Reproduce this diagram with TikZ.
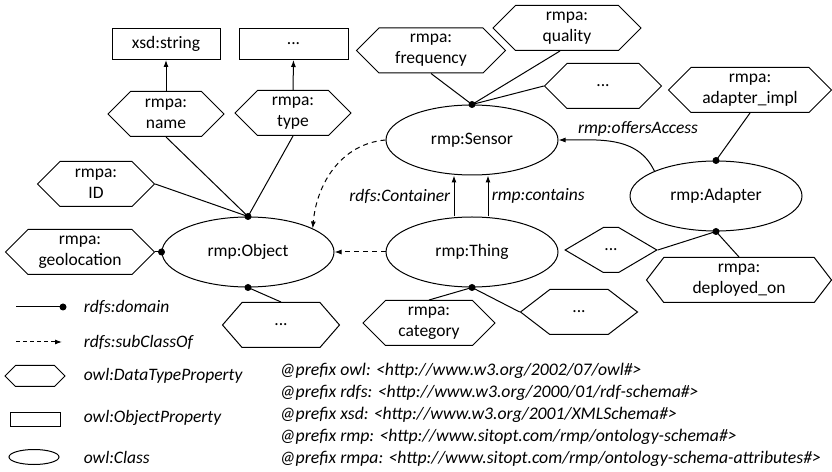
\documentclass[tikz,border=0pt]{standalone}
\usepackage{fontspec}
\setmainfont{Carlito}
\usetikzlibrary{positioning,shapes.geometric,shapes.symbols,arrows.meta}
\tikzstyle{Clase}=[ellipse, draw, minimum width=172pt, minimum height=70pt, inner sep=0pt]
\tikzstyle{DatoProp}=[signal, signal to=west and east, signal pointer angle=90, draw, align=center, minimum height=45pt, inner sep=1pt]
\tikzstyle{ObjProp}=[rectangle, draw, minimum width=108pt, minimum height=31pt]
\tikzstyle{Punto}=[circle, fill, inner sep=0pt, minimum size=7pt]
\tikzstyle{Flecha}=[-{Latex[length=7pt,width=5pt]}]
\tikzstyle{SubClase}=[Flecha, dash pattern=on 5pt off 4pt]
\tikzstyle{Etiqueta}=[font=\fontsize{17.5}{21}\selectfont\itshape]

\begin{document}
\begin{tikzpicture}[x=1pt, y=1pt, line width=1pt, font=\fontsize{17.5}{21}\selectfont]
			\useasboundingbox (0,0) rectangle (832,471);

			%Clases
			\node[Clase]		(sensor)		at (472,331)	{rmp:Sensor};
			\node[Clase]		(object)		at (248,219)	{rmp:Object};
			\node[Clase]		(thing)		at (472,219)	{rmp:Thing};
			\node[Clase]		(adapter)		at (716,275)	{rmp:Adapter};

			%Propiedades
			\node[ObjProp]		(string)		at (166,427)	{xsd:string};
			\node[ObjProp, minimum width=109pt]	(typerange)	at (293.5,427)	{...};

			\node[DatoProp, minimum width=116pt]	(name)		at (166,357)	{rmpa:\\name};
			\node[DatoProp, minimum width=116pt]	(type)		at (293,358)	{rmpa:\\type};
			\node[DatoProp, minimum width=117pt]	(id)			at (96,287)		{rmpa:\\ID};
			\node[DatoProp, minimum width=149pt]	(geolocation)	at (80,219)		{rmpa:\\geolocation};
			\node[DatoProp, minimum width=117pt, signal pointer angle=98]	(objmore)	at (281,146)	{...};

			\node[DatoProp, minimum width=149pt]	(frequency)	at (431,420.5)	{rmpa:\\frequency};
			\node[DatoProp, minimum width=148pt]	(quality)		at (567,443)	{rmpa:\\quality};
			\node[DatoProp, minimum width=117pt]	(sensormore)	at (603,385)	{...};

			\node[DatoProp, minimum width=163pt]	(impl)		at (750,381)	{rmpa:\\adapter\_impl};
			\node[DatoProp, minimum width=78pt, signal pointer angle=61]	(adaptermore)	at (611,221)	{...};
			\node[DatoProp, minimum width=185pt, signal pointer angle=105]	(deployed)	at (739,191)	{rmpa:\\deployed\_on};

			\node[DatoProp, minimum width=132pt]	(category)	at (429,148)	{rmpa:\\category};
			\node[DatoProp, minimum width=117pt, signal pointer angle=75]	(thingmore)	at (579,159)	{...};

			%Puntos de dominio
			\node[Punto]		(objtop)		at (object.north)	{};
			\node[Punto]		(objleft)		at (object.west)	{};
			\node[Punto]		(objbottom)	at (object.south)	{};
			\node[Punto]		(sensortop)	at (sensor.north)	{};
			\node[Punto]		(thingbottom)	at (thing.south)	{};
			\node[Punto]		(adaptertop)	at (adapter.north)	{};
			\node[Punto]		(adapterbottom)	at (adapter.south)	{};

			%Lineas
			\draw (name.south) -- (objtop.center);
			\draw (type.south) -- (objtop.center);
			\draw (id.east) -- (objtop.center);
			\draw (geolocation.east) -- (objleft.center);
			\draw (objbottom.center) -- (objmore.north);

			\draw (frequency.south) -- (sensortop.center);
			\draw ([xshift=-7pt]quality.south) -- (sensortop.center);
			\draw (sensormore.west) -- (sensortop.center);

			\draw (impl.south) -- (adaptertop.center);
			\draw (adapterbottom.center) -- (adaptermore.east);
			\draw (adapterbottom.center) -- (deployed.north);

			\draw (thingbottom.center) -- (category.north);
			\draw (thingbottom.center) -- (thingmore.west);

			\draw[Flecha] (name.north) -- (string.south);
			\draw[Flecha] (type.north) -- (typerange.south);

			\draw[Flecha] ([xshift=-18pt]thing.north) -- ([xshift=-18pt]sensor.south) node[midway, left, Etiqueta] {rdfs:Container};
			\draw[Flecha] ([xshift=16pt]thing.north) -- ([xshift=16pt]sensor.south) node[midway, right, Etiqueta] {rmp:contains};

			\draw[SubClase] (thing.west) -- (object.east);
			\draw[SubClase] (sensor.west) to[out=185, in=85] (object.20);

			\draw[Flecha] (adapter.158) to[out=115, in=0] (sensor.east);
			\node[Etiqueta]	(offers)	at (638,342)	{rmp:offersAccess};

			%Leyenda
			\coordinate		(domstart)	at (16,164);
			\node[Punto]		(domend)		at (63,164)		{};
			\draw (domstart) -- (domend.center);
			\node[Etiqueta, anchor=west]	(domlabel)	at (80,164)	{rdfs:domain};

			\coordinate		(substart)	at (16,129);
			\coordinate		(subend)		at (62,129);
			\draw[SubClase, dash pattern=on 4pt off 3pt] (substart) -- (subend);
			\node[Etiqueta, anchor=west]	(sublabel)	at (80,129)	{rdfs:subClassOf};

			\node[DatoProp, minimum width=60pt, minimum height=21pt, inner sep=0pt]	(keyhex)	at (35,95)	{};
			\node[Etiqueta, anchor=west]	(hexlabel)	at (80,95)	{owl:DataTypeProperty};

			\node[ObjProp, minimum width=50pt, minimum height=14pt, inner sep=0pt]	(keyrect)	at (35,51)	{};
			\node[Etiqueta, anchor=west]	(rectlabel)	at (80,53)	{owl:ObjectProperty};

			\node[Clase, minimum width=50pt, minimum height=15pt]	(keyellipse)	at (34,14)	{};
			\node[Etiqueta, anchor=west]	(ellipselabel)	at (80,14)	{owl:Class};

			%Prefijos
			\node[anchor=west, align=left, font=\fontsize{17.7}{22}\selectfont\itshape]	(prefixes)	at (276,56)
				{@prefix owl: <http://www.w3.org/2002/07/owl\#>\\
				@prefix rdfs: <http://www.w3.org/2000/01/rdf-schema\#>\\
				@prefix xsd: <http://www.w3.org/2001/XMLSchema\#>\\
				@prefix rmp: <http://www.sitopt.com/rmp/ontology-schema\#>\\
				@prefix rmpa: <http://www.sitopt.com/rmp/ontology-schema-attributes\#>};

		\end{tikzpicture}
\end{document}
